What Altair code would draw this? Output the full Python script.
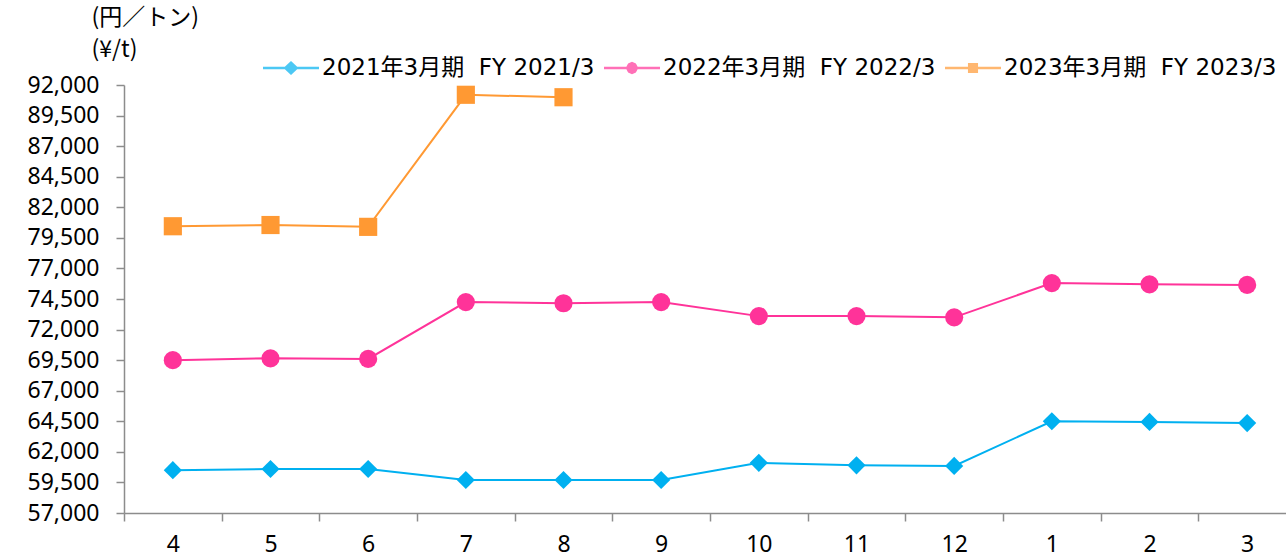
import altair as alt
import pandas as pd

months = ["4", "5", "6", "7", "8", "9", "10", "11", "12", "1", "2", "3"]
series_names = ["2021年3月期 \u00a0FY 2021/3", "2022年3月期 \u00a0FY 2022/3", "2023年3月期 \u00a0FY 2023/3"]
fy2021 = [60500, 60600, 60600, 59700, 59700, 59700, 61100, 60900, 60850, 64500, 64450, 64350]
fy2022 = [69500, 69650, 69600, 74250, 74150, 74250, 73100, 73100, 73000, 75800, 75700, 75650]
fy2023 = [80450, 80550, 80400, 91200, 91000]
colors = ["#00B0F0", "#FF3399", "#FF9933"]
y_ticks = list(range(57000, 92001, 2500))

rows = []
for name, vals in zip(series_names, [fy2021, fy2022, fy2023]):
    for m, v in zip(months, vals):
        rows.append({"month": m, "series": name, "value": v})
df = pd.DataFrame(rows)

FONT = "Noto Sans CJK JP"
NFONT = "Noto Sans"
LFONT = "DejaVu Sans, Noto Sans CJK JP"
GRAY = "#8c8c8c"

color_scale = alt.Scale(domain=series_names, range=colors)

legend_paths = [
    "M-1,-0.045L-0.22,-0.045L0,-0.25L0.22,-0.045L1,-0.045L1,0.045L0.22,0.045L0,0.25L-0.22,0.045L-1,0.045Z",
    "M-1,-0.045L-0.2,-0.045L-0.14,-0.16L0,-0.22L0.14,-0.16L0.2,-0.045L1,-0.045L1,0.045L0.2,0.045L0.14,0.16L0,0.22L-0.14,0.16L-0.2,0.045L-1,0.045Z",
    "M-1,-0.045L-0.18,-0.045L-0.18,-0.18L0.18,-0.18L0.18,-0.045L1,-0.045L1,0.045L0.18,0.045L0.18,0.18L-0.18,0.18L-0.18,0.045L-1,0.045Z",
]

x_enc = alt.X(
    "month:N",
    sort=months,
    scale=alt.Scale(type="band", paddingInner=0, paddingOuter=0, range=[0, 1172]),
    axis=alt.Axis(
        title=None, labelAngle=0, labelFontSize=23, labelFont=NFONT, labelColor="#000000",
        tickBand="extent", tickSize=8, tickColor=GRAY, tickWidth=1.5,
        domainColor=GRAY, domainWidth=1.5, labelPadding=12, grid=False,
    ),
)
y_enc = alt.Y(
    "value:Q",
    scale=alt.Scale(domain=[57000, 92000], nice=False, zero=False),
    axis=alt.Axis(
        values=y_ticks, format=",d", labelFontSize=23, labelFont=NFONT, labelColor="#000000",
        tickSize=8, tickColor=GRAY, tickWidth=1.5, domainColor=GRAY, domainWidth=1.5,
        labelPadding=17, grid=False,
        title=["(円／トン)", "(¥/t)"], titleAngle=0, titleAlign="left", titleBaseline="top",
        titleX=-33, titleY=-79, titleFontSize=23, titleFont=FONT, titleFontWeight="normal",
        titleLineHeight=32, titleColor="#000000",
    ),
)

base = alt.Chart(df)

leg = alt.Legend(
    title=None, orient="none", legendX=139, legendY=-45, direction="horizontal",
    labelFont=LFONT, labelFontSize=23, labelColor="#000000",
    symbolSize=3136, symbolStrokeWidth=0,
    labelOffset=3, columnPadding=9, labelLimit=400,
)

legend_layer = base.transform_filter("false").mark_point(filled=True).encode(
    x=x_enc, y=y_enc,
    color=alt.Color("series:N", scale=color_scale, legend=leg),
    shape=alt.Shape("series:N", scale=alt.Scale(domain=series_names, range=legend_paths),
                    legend=leg),
)

lines = base.mark_line(strokeWidth=2).encode(
    x=x_enc, y=y_enc,
    color=alt.Color("series:N", scale=color_scale, legend=None),
    detail="series:N",
)

shapes = ["diamond", "circle", "square"]
point_layers = []
for name, shp in zip(series_names, shapes):
    point_layers.append(
        base.transform_filter(alt.datum.series == name)
        .mark_point(shape=shp, filled=True, size=330, opacity=1)
        .encode(x=x_enc, y=y_enc, color=alt.Color("series:N", scale=color_scale, legend=None))
    )

chart = alt.layer(legend_layer, lines, *point_layers).properties(
    width=1162, height=428,
    autosize=alt.AutoSizeParams(type="none"),
    padding={"left": 124, "top": 85, "right": 0, "bottom": 45},
).configure_view(stroke=None)

chart.save("out.html", embed_options={"renderer": "svg", "actions": False})
